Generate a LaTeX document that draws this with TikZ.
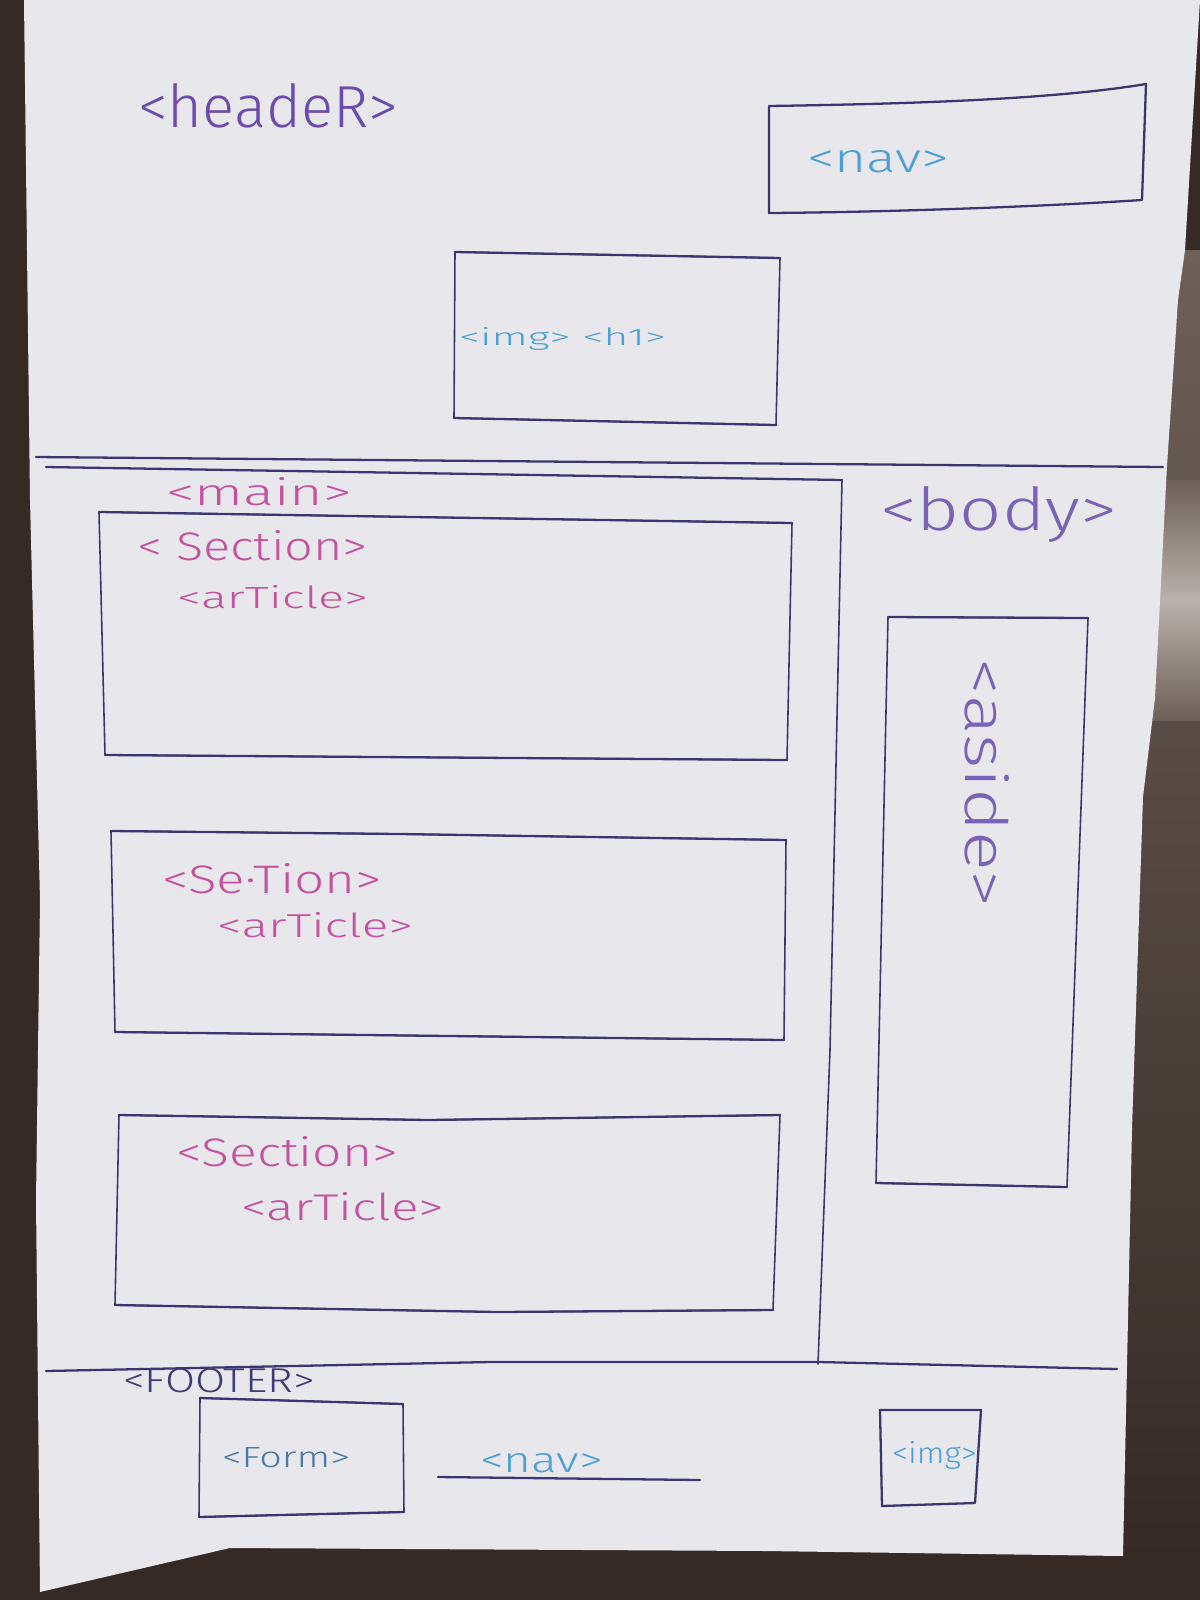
\documentclass[tikz,border=0pt]{standalone}
\usepackage{fontspec}
\newfontfamily\hand{Fira Sans}[UprightFont={* Light}]
\newlength\pxl
\setlength\pxl{0.02cm}
% handwritten label squeezed to a given width and height (in px units)
\newcommand\hw[3]{\resizebox{#1\pxl}{#2\pxl}{\hand #3}}

\definecolor{desk}{HTML}{352A26}
\definecolor{wood}{HTML}{5E4E46}
\definecolor{woodtop}{HTML}{6E6058}
\definecolor{shine}{HTML}{B8B2AC}
\definecolor{paper}{HTML}{E8E8EC}
\definecolor{ink}{HTML}{3A3670}
\definecolor{headink}{HTML}{6A4CB0}
\definecolor{pinkink}{HTML}{C4529F}
\definecolor{violet}{HTML}{7A62B8}
\definecolor{skyink}{HTML}{4C9FD8}
\definecolor{footink}{HTML}{3F3A78}
\definecolor{formink}{HTML}{4A78A8}

\begin{document}
\begin{tikzpicture}[x=0.02cm,y=-0.02cm,
  pen/.style={draw=ink,line width=1.3pt,line join=round,line cap=round},
  thinpen/.style={draw=ink,line width=0.9pt,line join=round,line cap=round},
  lbl/.style={inner sep=0pt,outer sep=0pt,anchor=base west}]

\useasboundingbox (0,0) rectangle (1200,1600);

% desk, with the wooden board showing on the right
\fill[desk] (0,0) rectangle (1200,1600);
\shade[top color=woodtop,bottom color=desk] (1100,250) rectangle (1200,1560);
\shade[top color=woodtop,bottom color=woodtop,middle color=shine]
  (1100,480) rectangle (1200,720);

% the sheet of paper
\fill[paper] (24,0) -- (1200,0) -- (1185,250) -- (1178,300) -- (1167,466)
  -- (1155,698) -- (1143,797) -- (1132,1129) -- (1123,1556) -- (765,1551)
  -- (230,1548) -- (40,1592) -- (36,1200) -- (40,900) -- (30,500) -- cycle;

% ---------- header ----------
\node[lbl,text=headink] (header) at (138,127) {\hw{260}{44}{<headeR>}};

\coordinate (navTL) at (769,106);
\coordinate (navTR) at (1146,84);
\coordinate (navBR) at (1142,200);
\coordinate (navBL) at (769,213);
\draw[pen] (navTL) .. controls (900,104) and (1050,100) .. (navTR) -- (navBR)
  .. controls (1050,206) and (900,212) .. (navBL) -- cycle;
\node[lbl,text=skyink] (navtop) at (807,172) {\hw{142}{22}{<nav>}};

\coordinate (imgTL) at (455,252);
\coordinate (imgTR) at (780,258);
\coordinate (imgBR) at (776,425);
\coordinate (imgBL) at (454,418);
\draw[thinpen] (imgTL) -- (imgTR) -- (imgBR) -- (imgBL) -- cycle;
\draw[pen] (imgTL) -- (imgTR) (imgBL) -- (imgBR);
\node[lbl,text=skyink] (imgh) at (459,345) {\hw{207}{18}{<img> <h1>}};

% ---------- body / main ----------
\coordinate (bodyL) at (36,457);
\coordinate (bodyR) at (1163,467);
\draw[pen] (bodyL) -- (bodyR);

\coordinate (mainL) at (46,467);
\coordinate (mainTR) at (842,480);
\coordinate (mainMid) at (830,1050);
\coordinate (mainBR) at (818,1364);
\draw[pen] (mainL) -- (mainTR);
\draw[thinpen] (mainTR) -- (mainMid) -- (mainBR);

\node[lbl,text=pinkink] (main) at (166,505) {\hw{186}{28}{<main>}};
\node[lbl,text=violet] (body) at (880,530) {\hw{237}{44}{<body>}};

% section 1
\coordinate (s1TL) at (99,512);
\coordinate (s1TR) at (792,523);
\coordinate (s1BR) at (787,760);
\coordinate (s1BL) at (105,755);
\draw[thinpen] (s1TL) -- (s1TR) -- (s1BR) -- (s1BL) -- cycle;
\draw[pen] (s1TL) -- (s1TR) (s1BL) -- (s1BR);
\node[lbl,text=pinkink] (sec1) at (137,560) {\hw{231}{30}{< Section>}};
\node[lbl,text=pinkink] (art1) at (177,608) {\hw{191}{23}{<arTicle>}};

% section 2
\coordinate (s2TL) at (111,831);
\coordinate (s2TM) at (400,834);
\coordinate (s2TR) at (786,840);
\coordinate (s2BR) at (784,1040);
\coordinate (s2BL) at (115,1032);
\draw[thinpen] (s2TL) -- (s2TM) -- (s2TR) -- (s2BR) -- (s2BL) -- cycle;
\draw[pen] (s2TL) -- (s2TM) -- (s2TR) (s2BL) -- (s2BR);
\node[lbl,text=pinkink] (sec2) at (162,893) {\hw{220}{30}{<Se·Tion>}};
\node[lbl,text=pinkink] (art2) at (217,937) {\hw{196}{25}{<arTicle>}};

% section 3
\coordinate (s3TL) at (119,1115);
\coordinate (s3TM) at (428,1120);
\coordinate (s3TR) at (780,1115);
\coordinate (s3BR) at (773,1310);
\coordinate (s3BM) at (497,1312);
\coordinate (s3BL) at (115,1305);
\draw[thinpen] (s3TL) -- (s3TM) -- (s3TR) -- (s3BR) -- (s3BM) -- (s3BL) -- cycle;
\draw[pen] (s3TL) -- (s3TM) -- (s3TR) (s3BL) -- (s3BM) -- (s3BR);
\node[lbl,text=pinkink] (sec3) at (176,1166) {\hw{222}{30}{<Section>}};
\node[lbl,text=pinkink] (art3) at (241,1220) {\hw{203}{28}{<arTicle>}};

% aside
\coordinate (asTL) at (888,617);
\coordinate (asTR) at (1088,618);
\coordinate (asBR) at (1067,1187);
\coordinate (asBL) at (876,1183);
\draw[thinpen] (asTL) -- (asTR) -- (asBR) -- (asBL) -- cycle;
\draw[pen] (asTL) -- (asTR) (asBL) -- (asBR);
\node[inner sep=0pt,rotate=-90,text=violet] (aside) at (987,783) {\hw{249}{44}{<aside>}};

% ---------- footer ----------
\coordinate (ftL) at (46,1371);
\coordinate (ftM1) at (490,1362);
\coordinate (ftM2) at (819,1362);
\coordinate (ftR) at (1117,1369);
\draw[pen] (ftL) -- (ftM1) -- (ftM2) -- (ftR);
\node[lbl,text=footink] (footer) at (123,1392) {\hw{192}{24}{<FOOTER>}};

\coordinate (fmTL) at (200,1398);
\coordinate (fmTR) at (403,1404);
\coordinate (fmBR) at (404,1512);
\coordinate (fmBL) at (199,1517);
\draw[thinpen] (fmTL) -- (fmTR) -- (fmBR) -- (fmBL) -- cycle;
\draw[pen] (fmTL) -- (fmTR) (fmBL) -- (fmBR);
\node[lbl,text=formink] (form) at (222,1467) {\hw{128}{20}{<Form>}};

\coordinate (nvL) at (438,1477);
\coordinate (nvR) at (700,1480);
\draw[pen] (nvL) -- (nvR);
\node[lbl,text=skyink] (navfoot) at (480,1472) {\hw{123}{19}{<nav>}};

\coordinate (igTL) at (880,1410);
\coordinate (igTR) at (981,1410);
\coordinate (igBR) at (975,1503);
\coordinate (igBL) at (882,1506);
\draw[pen] (igTL) -- (igTR) -- (igBR) -- (igBL) -- cycle;
\node[lbl,text=skyink] (imgfoot) at (892,1463) {\hw{85}{22}{<img>}};

\end{tikzpicture}
\end{document}
